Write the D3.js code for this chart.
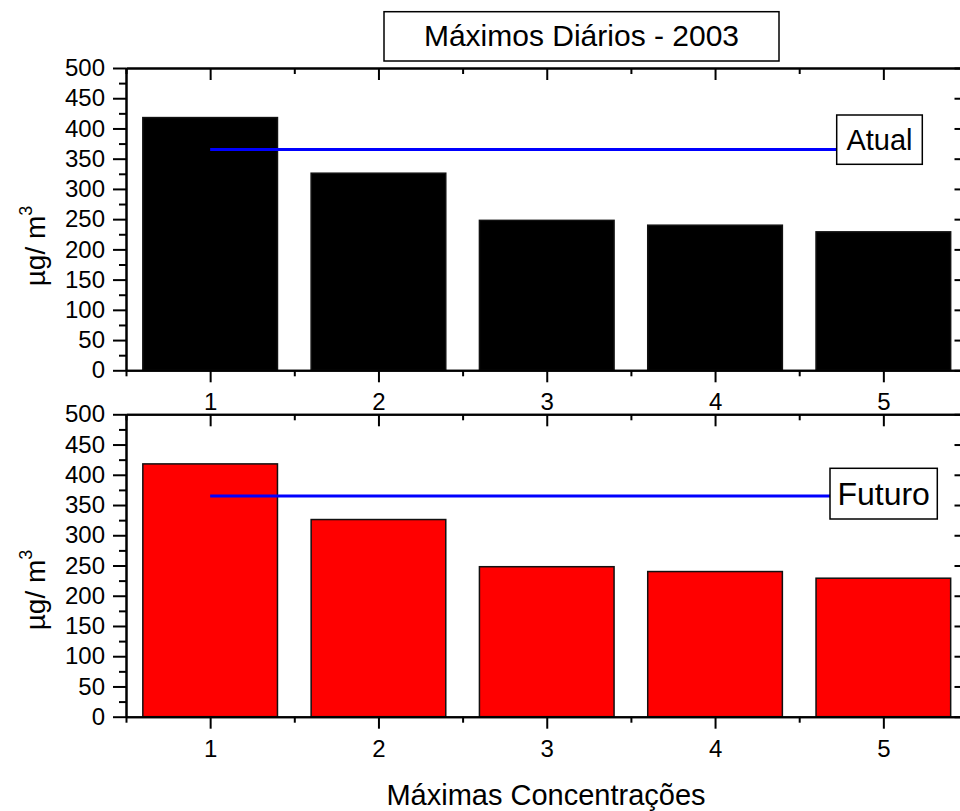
<!DOCTYPE html>
<html>
<head>
<meta charset="utf-8">
<script src="https://cdn.jsdelivr.net/npm/d3@7"></script>
<style>
  body { margin: 0; background: #fff; }
  svg { display: block; font-family: "Liberation Sans", Arial, sans-serif; }
</style>
</head>
<body>
<div id="chart"></div>
<script>
// data
var categories = [1, 2, 3, 4, 5];
var atual = [418, 326, 248, 240, 229];
var futuro = [418, 326, 248, 240, 229];
var limite = 365; // horizontal reference line
var yTicks = [0, 50, 100, 150, 200, 250, 300, 350, 400, 450, 500];
var titleText = "Máximos Diários - 2003";
var xLabel = "Máximas Concentrações";

var width = 960, height = 811;
var left = 126, right = 967.5;

var svg = d3.select("#chart").append("svg")
  .attr("width", width)
  .attr("height", height);

var x = d3.scaleLinear().domain([0.5, 5.5]).range([left, right]);
var barW = x(1.4) - x(0.6);

var panels = [
  { values: atual, fill: "#000000", top: 68, bottom: 370.3, legend: "Atual",
    box: [836.7, 115, 85.6, 49.3], fs: 29, ylab: 246 },
  { values: futuro, fill: "#ff0000", top: 414.3, bottom: 716.7, legend: "Futuro",
    box: [830, 468.3, 107.3, 50.7], fs: 32, ylab: 590 }
];

var minorX = d3.range(0.5, 5.6, 1);
var minorY = d3.range(25, 500, 50);

function styleAxis(g) {
  g.select(".domain").attr("stroke-width", 2);
  g.selectAll(".tick line").attr("stroke-width", 2);
}

panels.forEach(function (p) {
  var y = d3.scaleLinear().domain([0, 500]).range([p.bottom, p.top]);
  var g = svg.append("g");

  // bars
  g.append("g").selectAll("rect")
    .data(p.values)
    .join("rect")
    .attr("x", (d, i) => x(categories[i]) - barW / 2)
    .attr("y", d => y(d))
    .attr("width", barW)
    .attr("height", d => y(0) - y(d))
    .attr("fill", p.fill)
    .attr("stroke", "#111")
    .attr("stroke-width", 1.5);

  // limit line
  g.append("line")
    .attr("x1", x(1)).attr("x2", x(5))
    .attr("y1", y(limite)).attr("y2", y(limite))
    .attr("stroke", "#0000ff")
    .attr("stroke-width", 3);

  // left axis: major + minor
  g.append("g").attr("transform", `translate(${left},0)`)
    .call(d3.axisLeft(y).tickValues(yTicks).tickSize(13).tickPadding(8).tickSizeOuter(0))
    .call(styleAxis)
    .call(a => a.selectAll("text").attr("font-size", 24).attr("fill", "#000").attr("font-family", null));
  g.append("g").attr("transform", `translate(${left},0)`)
    .call(d3.axisLeft(y).tickValues(minorY).tickSize(7).tickFormat("").tickSizeOuter(0))
    .call(styleAxis);

  // right axis: inward ticks
  g.append("g").attr("transform", `translate(${right},0)`)
    .call(d3.axisRight(y).tickValues(yTicks).tickSize(-13).tickFormat("").tickSizeOuter(0))
    .call(styleAxis);
  g.append("g").attr("transform", `translate(${right},0)`)
    .call(d3.axisRight(y).tickValues(minorY).tickSize(-7).tickFormat("").tickSizeOuter(0))
    .call(styleAxis);

  // bottom axis
  g.append("g").attr("transform", `translate(0,${p.bottom})`)
    .call(d3.axisBottom(x).tickValues(categories).tickSize(12).tickPadding(11).tickFormat(d3.format("d")).tickSizeOuter(0))
    .call(styleAxis)
    .call(a => a.selectAll("text").attr("font-size", 24).attr("fill", "#000").attr("font-family", null));
  g.append("g").attr("transform", `translate(0,${p.bottom})`)
    .call(d3.axisBottom(x).tickValues(minorX).tickSize(6).tickFormat("").tickSizeOuter(0))
    .call(styleAxis);

  // top axis: inward ticks
  g.append("g").attr("transform", `translate(0,${p.top})`)
    .call(d3.axisTop(x).tickValues(categories).tickSize(-12).tickFormat("").tickSizeOuter(0))
    .call(styleAxis);
  g.append("g").attr("transform", `translate(0,${p.top})`)
    .call(d3.axisTop(x).tickValues(minorX).tickSize(-6).tickFormat("").tickSizeOuter(0))
    .call(styleAxis);

  // legend box
  g.append("rect")
    .attr("x", p.box[0]).attr("y", p.box[1])
    .attr("width", p.box[2]).attr("height", p.box[3])
    .attr("fill", "#fff").attr("stroke", "#000").attr("stroke-width", 1.5);
  g.append("text")
    .attr("x", p.box[0] + p.box[2] / 2)
    .attr("y", p.box[1] + p.box[3] / 2)
    .attr("dy", "0.36em")
    .attr("text-anchor", "middle")
    .attr("font-size", p.fs)
    .text(p.legend);

  // y label
  var yl = g.append("text")
    .attr("transform", `translate(45,${p.ylab}) rotate(-90)`)
    .attr("text-anchor", "middle")
    .attr("font-size", 28);
  yl.append("tspan").text("µg/ m");
  yl.append("tspan").attr("font-size", 18).attr("dy", -13).text("3");
});

// title
svg.append("rect")
  .attr("x", 384).attr("y", 11.7).attr("width", 395).attr("height", 49.3)
  .attr("fill", "#fff").attr("stroke", "#000").attr("stroke-width", 1.5);
svg.append("text")
  .attr("x", 581.5).attr("y", 46)
  .attr("text-anchor", "middle")
  .attr("font-size", 30)
  .text(titleText);

// x label
svg.append("text")
  .attr("x", 546).attr("y", 805)
  .attr("text-anchor", "middle")
  .attr("font-size", 29)
  .text(xLabel);
</script>
</body>
</html>
